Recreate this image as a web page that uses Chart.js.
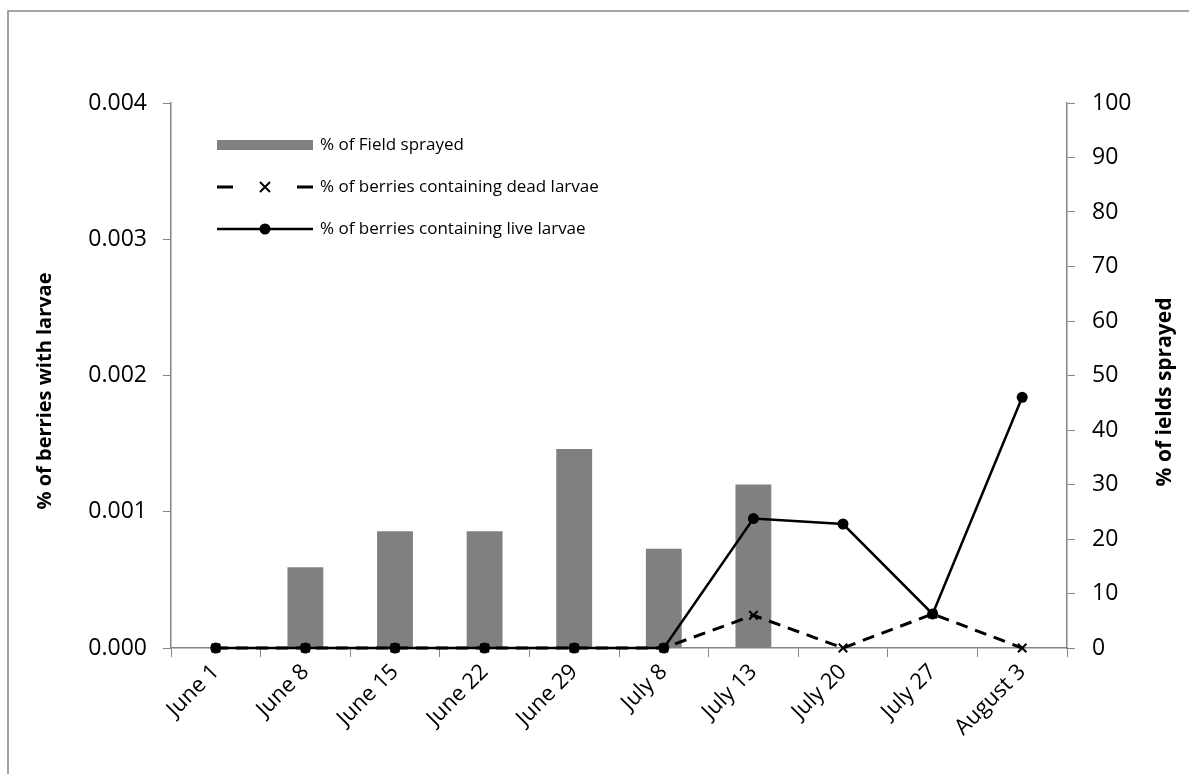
<!DOCTYPE html>
<html>
<head>
<meta charset="utf-8">
<script src="https://cdn.jsdelivr.net/npm/chart.js@4.4.1/dist/chart.umd.min.js"></script>
<style>
  html, body { margin: 0; padding: 0; background: #ffffff; }
  #wrap { width: 1189px; height: 774px; position: relative; }
</style>
</head>
<body>
<div id="wrap"><canvas id="chart"></canvas></div>
<script>
// Sampling dates
const categories = ['June 1', 'June 8', 'June 15', 'June 22', 'June 29', 'July 8', 'July 13', 'July 20', 'July 27', 'August 3'];

// % of field sprayed (right axis)
const fieldSprayed = [0, 14.8, 21.4, 21.4, 36.5, 18.2, 30, 0, 0, 0];

// % of berries with larvae (left axis)
const deadLarvae = [0, 0, 0, 0, 0, 0, 0.00024, 0, 0.00025, 0];
const liveLarvae = [0, 0, 0, 0, 0, 0, 0.00095, 0.00091, 0.00025, 0.00184];

// Axis ranges and steps
const leftTicks = { min: 0, max: 0.004, step: 0.001 };
const rightTicks = { min: 0, max: 100, step: 10 };

const seriesLabels = ['% of Field sprayed', '% of berries containing dead larvae', '% of berries containing live larvae'];
const axisTitles = { left: '% of berries with larvae', right: '% of ields sprayed' };

const FONT = '"Open Sans", "Liberation Sans", sans-serif';
const AXIS_GREY = '#868686';

// Frame, axis titles and an in-plot legend
const decorations = {
  id: 'decorations',
  afterDraw(chart) {
    const ctx = chart.ctx;
    ctx.save();

    // outer frame
    ctx.strokeStyle = AXIS_GREY;
    ctx.lineWidth = 1.5;
    ctx.beginPath();
    ctx.moveTo(8, 800);
    ctx.lineTo(8, 11);
    ctx.lineTo(1200, 11);
    ctx.stroke();

    // axis titles, both reading bottom-to-top
    ctx.fillStyle = '#000';
    ctx.textAlign = 'center';
    ctx.textBaseline = 'middle';
    ctx.font = 'bold 20px ' + FONT;
    ctx.save();
    ctx.translate(45, 391);
    ctx.rotate(-Math.PI / 2);
    ctx.fillText(axisTitles.left, 0, 0);
    ctx.restore();
    ctx.font = 'bold 21px ' + FONT;
    ctx.save();
    ctx.translate(1165, 392);
    ctx.rotate(-Math.PI / 2);
    ctx.fillText(axisTitles.right, 0, 0);
    ctx.restore();

    // legend
    const ds = chart.data.datasets;
    const x0 = 217, x1 = 313, textX = 320;
    const rows = [145, 187, 229];
    ctx.font = '17px ' + FONT;
    ctx.textAlign = 'left';
    ctx.textBaseline = 'middle';

    // bar swatch
    ctx.fillStyle = ds[0].backgroundColor;
    ctx.fillRect(x0, rows[0] - 5, x1 - x0, 10);

    // dashed line with cross
    const mid = (x0 + x1) / 2;
    ctx.strokeStyle = '#000';
    ctx.lineWidth = 3;
    ctx.beginPath();
    ctx.moveTo(x0, rows[1]); ctx.lineTo(x0 + 16, rows[1]);
    ctx.moveTo(x1 - 16, rows[1]); ctx.lineTo(x1, rows[1]);
    ctx.stroke();
    ctx.lineWidth = 2;
    const r = 5;
    ctx.beginPath();
    ctx.moveTo(mid - r, rows[1] - r); ctx.lineTo(mid + r, rows[1] + r);
    ctx.moveTo(mid - r, rows[1] + r); ctx.lineTo(mid + r, rows[1] - r);
    ctx.stroke();

    // solid line with dot
    ctx.lineWidth = 2.5;
    ctx.beginPath();
    ctx.moveTo(x0, rows[2]); ctx.lineTo(x1, rows[2]);
    ctx.stroke();
    ctx.fillStyle = '#000';
    ctx.beginPath();
    ctx.arc(mid, rows[2], 5.5, 0, Math.PI * 2);
    ctx.fill();

    ctx.fillStyle = '#000';
    rows.forEach((y, i) => ctx.fillText(ds[i].label, textX, y));

    ctx.restore();
  }
};

new Chart(document.getElementById('chart'), {
  type: 'bar',
  data: {
    labels: categories,
    datasets: [
      {
        type: 'bar',
        label: seriesLabels[0],
        data: fieldSprayed,
        yAxisID: 'y1',
        backgroundColor: '#808080',
        barPercentage: 0.4,
        categoryPercentage: 1,
        order: 3
      },
      {
        type: 'line',
        label: seriesLabels[1],
        data: deadLarvae,
        yAxisID: 'y',
        borderColor: '#000',
        borderWidth: 3,
        borderDash: [12, 8],
        pointStyle: 'crossRot',
        pointRadius: 6,
        pointBorderWidth: 2,
        pointBorderColor: '#000',
        pointBackgroundColor: '#000',
        tension: 0,
        clip: false,
        order: 1
      },
      {
        type: 'line',
        label: seriesLabels[2],
        data: liveLarvae,
        yAxisID: 'y',
        borderColor: '#000',
        borderWidth: 2.5,
        pointStyle: 'circle',
        pointRadius: 5.5,
        pointBorderWidth: 0,
        pointBackgroundColor: '#000',
        tension: 0,
        clip: false,
        order: 2
      }
    ]
  },
  options: {
    responsive: true,
    maintainAspectRatio: false,
    animation: false,
    layout: { padding: { top: 103, left: 0, right: 0, bottom: 0 } },
    plugins: {
      legend: { display: false },
      tooltip: { enabled: false }
    },
    scales: {
      x: {
        offset: true,
        grid: { display: true, drawOnChartArea: false, tickLength: 9, color: AXIS_GREY, offset: true },
        border: { color: AXIS_GREY, width: 1.5 },
        ticks: { color: '#000', font: { family: FONT, size: 22 }, maxRotation: 45, minRotation: 45, padding: 2 },
        afterFit(scale) { scale.height = 774 - 648; }
      },
      y: {
        position: 'left',
        min: leftTicks.min,
        max: leftTicks.max,
        grid: { drawOnChartArea: false, tickLength: 8, color: AXIS_GREY },
        border: { color: AXIS_GREY, width: 1.5 },
        ticks: {
          stepSize: leftTicks.step,
          color: '#000',
          font: { family: FONT, size: 23 },
          padding: 16,
          callback: v => Number(v).toFixed(3)
        },
        afterFit(scale) { scale.width = 171; }
      },
      y1: {
        position: 'right',
        min: rightTicks.min,
        max: rightTicks.max,
        grid: { drawOnChartArea: false, tickLength: 8, color: AXIS_GREY },
        border: { color: AXIS_GREY, width: 1.5 },
        ticks: {
          stepSize: rightTicks.step,
          color: '#000',
          font: { family: FONT, size: 23 },
          padding: 17
        },
        afterFit(scale) { scale.width = 1189 - 1067; }
      }
    }
  },
  plugins: [decorations]
});
</script>
</body>
</html>
